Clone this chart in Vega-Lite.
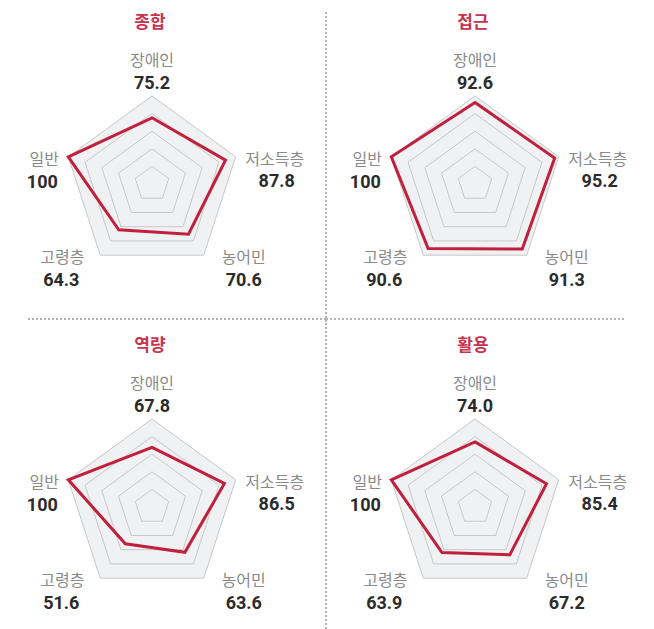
{
  "$schema": "https://vega.github.io/schema/vega-lite/v6.json",
  "padding": 0,
  "background": "white",
  "bounds": "flush",
  "config": {"view": {"stroke": null}},
  "data": {"values": [
    {"panel": "종합", "category": "장애인", "value": 75.2},
    {"panel": "종합", "category": "저소득층", "value": 87.8},
    {"panel": "종합", "category": "농어민", "value": 70.6},
    {"panel": "종합", "category": "고령층", "value": 64.3},
    {"panel": "종합", "category": "일반", "value": 100},
    {"panel": "접근", "category": "장애인", "value": 92.6},
    {"panel": "접근", "category": "저소득층", "value": 95.2},
    {"panel": "접근", "category": "농어민", "value": 91.3},
    {"panel": "접근", "category": "고령층", "value": 90.6},
    {"panel": "접근", "category": "일반", "value": 100},
    {"panel": "역량", "category": "장애인", "value": 67.8},
    {"panel": "역량", "category": "저소득층", "value": 86.5},
    {"panel": "역량", "category": "농어민", "value": 63.6},
    {"panel": "역량", "category": "고령층", "value": 51.6},
    {"panel": "역량", "category": "일반", "value": 100},
    {"panel": "활용", "category": "장애인", "value": 74.0},
    {"panel": "활용", "category": "저소득층", "value": 85.4},
    {"panel": "활용", "category": "농어민", "value": 67.2},
    {"panel": "활용", "category": "고령층", "value": 63.9},
    {"panel": "활용", "category": "일반", "value": 100}
  ]},
  "transform": [
    {"calculate": "indexof(['장애인','저소득층','농어민','고령층','일반'], datum.category)", "as": "idx"},
    {"calculate": "indexof(['종합','접근','역량','활용'], datum.panel)", "as": "pidx"},
    {"calculate": "floor(datum.pidx/2)", "as": "prow"},
    {"calculate": "datum.pidx%2", "as": "pcol"},
    {"calculate": "datum.idx*2*PI/5", "as": "ang"},
    {"calculate": "datum.value*sin(datum.ang)", "as": "px"},
    {"calculate": "datum.value*cos(datum.ang)", "as": "py"},
    {"calculate": "100*sin(datum.ang)", "as": "vx"},
    {"calculate": "100*cos(datum.ang)", "as": "vy"}
  ],
  "facet": {
    "row": {"field": "prow", "type": "ordinal", "header": null, "title": null},
    "column": {"field": "pcol", "type": "ordinal", "header": null, "title": null}
  },
  "spacing": {"row": 23, "column": 23},
  "spec": {
    "width": 300,
    "height": 300,
    "layer": [
      {
        "mark": {"type": "line", "interpolate": "linear-closed", "fill": "#f0f1f3", "stroke": "#c8c8c8", "strokeWidth": 1},
        "encoding": {
          "x": {"field": "vx", "type": "quantitative", "scale": {"domain": [-172.73, 168.18], "nice": false, "zero": false}, "axis": null},
          "y": {"field": "vy", "type": "quantitative", "scale": {"domain": [-131.82, 209.09], "nice": false, "zero": false}, "axis": null},
          "order": {"field": "idx", "type": "quantitative"}
        }
      },
      {
        "transform": [
          {"calculate": "[20,40,60,80]", "as": "lv"},
          {"flatten": ["lv"]},
          {"calculate": "datum.lv*sin(datum.ang)", "as": "gx"},
          {"calculate": "datum.lv*cos(datum.ang)", "as": "gy"}
        ],
        "mark": {"type": "line", "interpolate": "linear-closed", "stroke": "#c8c8c8", "strokeWidth": 1},
        "encoding": {
          "x": {"field": "gx", "type": "quantitative", "scale": {"domain": [-172.73, 168.18], "nice": false, "zero": false}, "axis": null},
          "y": {"field": "gy", "type": "quantitative", "scale": {"domain": [-131.82, 209.09], "nice": false, "zero": false}, "axis": null},
          "detail": {"field": "lv", "type": "nominal"},
          "order": {"field": "idx", "type": "quantitative"}
        }
      },
      {
        "mark": {"type": "line", "interpolate": "linear-closed", "stroke": "#c1203c", "strokeWidth": 3, "strokeJoin": "miter"},
        "encoding": {
          "x": {"field": "px", "type": "quantitative", "scale": {"domain": [-172.73, 168.18], "nice": false, "zero": false}, "axis": null},
          "y": {"field": "py", "type": "quantitative", "scale": {"domain": [-131.82, 209.09], "nice": false, "zero": false}, "axis": null},
          "order": {"field": "idx", "type": "quantitative"}
        }
      },
      {
        "transform": [{"filter": "datum.category=='장애인'"}],
        "mark": {"type": "text", "dx": 0, "dy": -35, "font": "Noto Sans CJK KR", "fontSize": 16, "color": "#8a8a8a"},
        "encoding": {
          "x": {"field": "vx", "type": "quantitative", "scale": {"domain": [-172.73, 168.18], "nice": false, "zero": false}, "axis": null},
          "y": {"field": "vy", "type": "quantitative", "scale": {"domain": [-131.82, 209.09], "nice": false, "zero": false}, "axis": null},
          "text": {"field": "category"}
        }
      },
      {
        "transform": [{"filter": "datum.category=='장애인'"}],
        "mark": {"type": "text", "dx": 0, "dy": -11.5, "font": "Roboto", "fontWeight": "bold", "fontSize": 18, "color": "#2b2b2b"},
        "encoding": {
          "x": {"field": "vx", "type": "quantitative", "scale": {"domain": [-172.73, 168.18], "nice": false, "zero": false}, "axis": null},
          "y": {"field": "vy", "type": "quantitative", "scale": {"domain": [-131.82, 209.09], "nice": false, "zero": false}, "axis": null},
          "text": {"field": "value", "type": "quantitative", "format": ".1f"}
        }
      },
      {
        "transform": [{"filter": "datum.category=='저소득층'"}],
        "mark": {"type": "text", "dx": 39, "dy": 3, "font": "Noto Sans CJK KR", "fontSize": 16, "color": "#8a8a8a"},
        "encoding": {
          "x": {"field": "vx", "type": "quantitative", "scale": {"domain": [-172.73, 168.18], "nice": false, "zero": false}, "axis": null},
          "y": {"field": "vy", "type": "quantitative", "scale": {"domain": [-131.82, 209.09], "nice": false, "zero": false}, "axis": null},
          "text": {"field": "category"}
        }
      },
      {
        "transform": [{"filter": "datum.category=='저소득층'"}],
        "mark": {"type": "text", "dx": 41, "dy": 25.5, "font": "Roboto", "fontWeight": "bold", "fontSize": 18, "color": "#2b2b2b"},
        "encoding": {
          "x": {"field": "vx", "type": "quantitative", "scale": {"domain": [-172.73, 168.18], "nice": false, "zero": false}, "axis": null},
          "y": {"field": "vy", "type": "quantitative", "scale": {"domain": [-131.82, 209.09], "nice": false, "zero": false}, "axis": null},
          "text": {"field": "value", "type": "quantitative", "format": ".1f"}
        }
      },
      {
        "transform": [{"filter": "datum.category=='농어민'"}],
        "mark": {"type": "text", "dx": 40, "dy": 3, "font": "Noto Sans CJK KR", "fontSize": 16, "color": "#8a8a8a"},
        "encoding": {
          "x": {"field": "vx", "type": "quantitative", "scale": {"domain": [-172.73, 168.18], "nice": false, "zero": false}, "axis": null},
          "y": {"field": "vy", "type": "quantitative", "scale": {"domain": [-131.82, 209.09], "nice": false, "zero": false}, "axis": null},
          "text": {"field": "category"}
        }
      },
      {
        "transform": [{"filter": "datum.category=='농어민'"}],
        "mark": {"type": "text", "dx": 40, "dy": 25.5, "font": "Roboto", "fontWeight": "bold", "fontSize": 18, "color": "#2b2b2b"},
        "encoding": {
          "x": {"field": "vx", "type": "quantitative", "scale": {"domain": [-172.73, 168.18], "nice": false, "zero": false}, "axis": null},
          "y": {"field": "vy", "type": "quantitative", "scale": {"domain": [-131.82, 209.09], "nice": false, "zero": false}, "axis": null},
          "text": {"field": "value", "type": "quantitative", "format": ".1f"}
        }
      },
      {
        "transform": [{"filter": "datum.category=='고령층'"}],
        "mark": {"type": "text", "dx": -38, "dy": 3, "font": "Noto Sans CJK KR", "fontSize": 16, "color": "#8a8a8a"},
        "encoding": {
          "x": {"field": "vx", "type": "quantitative", "scale": {"domain": [-172.73, 168.18], "nice": false, "zero": false}, "axis": null},
          "y": {"field": "vy", "type": "quantitative", "scale": {"domain": [-131.82, 209.09], "nice": false, "zero": false}, "axis": null},
          "text": {"field": "category"}
        }
      },
      {
        "transform": [{"filter": "datum.category=='고령층'"}],
        "mark": {"type": "text", "dx": -39, "dy": 25.5, "font": "Roboto", "fontWeight": "bold", "fontSize": 18, "color": "#2b2b2b"},
        "encoding": {
          "x": {"field": "vx", "type": "quantitative", "scale": {"domain": [-172.73, 168.18], "nice": false, "zero": false}, "axis": null},
          "y": {"field": "vy", "type": "quantitative", "scale": {"domain": [-131.82, 209.09], "nice": false, "zero": false}, "axis": null},
          "text": {"field": "value", "type": "quantitative", "format": ".1f"}
        }
      },
      {
        "transform": [{"filter": "datum.category=='일반'"}],
        "mark": {"type": "text", "dx": -24, "dy": 3, "font": "Noto Sans CJK KR", "fontSize": 16, "color": "#8a8a8a"},
        "encoding": {
          "x": {"field": "vx", "type": "quantitative", "scale": {"domain": [-172.73, 168.18], "nice": false, "zero": false}, "axis": null},
          "y": {"field": "vy", "type": "quantitative", "scale": {"domain": [-131.82, 209.09], "nice": false, "zero": false}, "axis": null},
          "text": {"field": "category"}
        }
      },
      {
        "transform": [{"filter": "datum.category=='일반'"}],
        "mark": {"type": "text", "dx": -26, "dy": 26, "font": "Roboto", "fontWeight": "bold", "fontSize": 18, "color": "#2b2b2b"},
        "encoding": {
          "x": {"field": "vx", "type": "quantitative", "scale": {"domain": [-172.73, 168.18], "nice": false, "zero": false}, "axis": null},
          "y": {"field": "vy", "type": "quantitative", "scale": {"domain": [-131.82, 209.09], "nice": false, "zero": false}, "axis": null},
          "text": {"field": "value", "type": "quantitative", "format": "d"}
        }
      },
      {
        "transform": [{"filter": "datum.category=='장애인'"}],
        "mark": {"type": "text", "font": "Noto Sans CJK KR", "fontWeight": "bold", "fontSize": 17, "color": "#c8334e"},
        "encoding": {
          "x": {"datum": -2.3, "type": "quantitative", "scale": {"domain": [-172.73, 168.18], "nice": false, "zero": false}, "axis": null},
          "y": {"datum": 182.4, "type": "quantitative", "scale": {"domain": [-131.82, 209.09], "nice": false, "zero": false}, "axis": null},
          "text": {"field": "panel"}
        }
      },
      {
        "transform": [{"filter": "datum.panel=='종합' && datum.category=='장애인'"}],
        "mark": {"type": "rule", "strokeDash": [2, 2], "color": "#666666", "strokeWidth": 1},
        "encoding": {
          "x": {"datum": 197.7, "type": "quantitative", "scale": {"domain": [-172.73, 168.18], "nice": false, "zero": false}, "axis": null},
          "y": {"datum": 195.45, "type": "quantitative", "scale": {"domain": [-131.82, 209.09], "nice": false, "zero": false}, "axis": null},
          "y2": {"datum": -157.95}
        }
      },
      {
        "transform": [{"filter": "datum.panel=='역량' && datum.category=='장애인'"}],
        "mark": {"type": "rule", "strokeDash": [2, 2], "color": "#666666", "strokeWidth": 1},
        "encoding": {
          "x": {"datum": 197.7, "type": "quantitative", "scale": {"domain": [-172.73, 168.18], "nice": false, "zero": false}, "axis": null},
          "y": {"datum": 209.09, "type": "quantitative", "scale": {"domain": [-131.82, 209.09], "nice": false, "zero": false}, "axis": null},
          "y2": {"datum": -138.6}
        }
      },
      {
        "transform": [{"filter": "datum.panel=='종합' && datum.category=='장애인'"}],
        "mark": {"type": "rule", "strokeDash": [2, 2], "color": "#666666", "strokeWidth": 1},
        "encoding": {
          "x": {"datum": -140.9, "type": "quantitative", "scale": {"domain": [-172.73, 168.18], "nice": false, "zero": false}, "axis": null},
          "x2": {"datum": 197.7},
          "y": {"datum": -153.4, "type": "quantitative", "scale": {"domain": [-131.82, 209.09], "nice": false, "zero": false}, "axis": null}
        }
      },
      {
        "transform": [{"filter": "datum.panel=='접근' && datum.category=='장애인'"}],
        "mark": {"type": "rule", "strokeDash": [2, 2], "color": "#666666", "strokeWidth": 1},
        "encoding": {
          "x": {"datum": -169.3, "type": "quantitative", "scale": {"domain": [-172.73, 168.18], "nice": false, "zero": false}, "axis": null},
          "x2": {"datum": 170.45},
          "y": {"datum": -153.4, "type": "quantitative", "scale": {"domain": [-131.82, 209.09], "nice": false, "zero": false}, "axis": null}
        }
      }
    ]
  }
}
